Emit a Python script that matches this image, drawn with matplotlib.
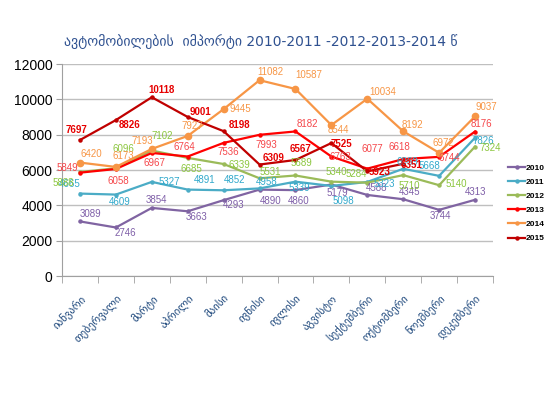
import matplotlib
matplotlib.use("Agg")
import matplotlib.pyplot as plt
from matplotlib.lines import Line2D

months = ["იანვარი", "თებერვალი", "მარტი", "აპრილი", "მაისი", "ივნისი",
          "ივლისი", "აგვისტო", "სექტემბერი", "ოქტომბერი", "ნოემბერი", "დეკემბერი"]
title = "ავტომობილების  იმპორტი 2010-2011 -2012-2013-2014 წ"
years = ["2010", "2011", "2012", "2013", "2014", "2015"]

v2010 = [3089, 2746, 3854, 3663, 4293, 4890, 4860, 5179, 4588, 4345, 3744, 4313]
v2011 = [4665, 4609, 5327, 4891, 4852, 4958, 5339, 5098, 5323, 6069, 5668, 7826]
v2012 = [5888, 6096, 7102, 6685, 6339, 5531, 5689, 5340, 5284, 5710, 5140, 7324]
v2013 = [5849, 6058, 6967, 6764, 7536, 7993, 8182, 6763, 6077, 6618, 6744, 8176]
v2014 = [6420, 6173, 7193, 7927, 9445, 11082, 10587, 8544, 10034, 8192, 6972, 9037]
v2015 = [7697, 8826, 10118, 9001, 8198, 6309, 6567, 7525, 5923, 6351]
yticks = [0, 2000, 4000, 6000, 8000, 10000, 12000]

series = [v2010, v2011, v2012, v2013, v2014, v2015]

# styles
line_colors = ["#8064A2", "#4BACC6", "#9BBB59", "#FF0000", "#F79646", "#C00000"]
label_colors = ["#7F5FA8", "#31A9CC", "#8CC63F", "#F5474B", "#F79646", "#E60000"]
label_weights = ["normal", "normal", "normal", "normal", "normal", "bold"]
msizes = [2.2, 2.2, 2.2, 2.2, 4.5, 2.2]

# label offsets in screen pixels (dx right, dy down)
offs = [
    [(11, -7), (9, 6), (5, -8), (9, 6), (10, 5), (11, 11), (3, 11), (6, 8), (9, -7), (6, -7), (1, 6), (1, -8)],
    [(-10, -10), (4, 7), (18, 0), (17, -10), (11, -10), (7, -6), (4, 6), (12, 15), (17, 2), (4, -7), (-10, -10), (8, 3)],
    [(-17, 11), (8, -19), (10, -15), (4, 11), (16, 1), (11, -6), (6, -12), (5, -10), (-11, -9), (6, 11), (17, -1), (15, 1)],
    [(-13, -5), (2, 12), (3, 10), (-3, -10), (5, 9), (7, 10), (12, -7), (9, 0), (5, -20), (-4, -12), (10, 1), (6, -8)],
    [(11, -9), (7, -11), (-9, -8), (5, -10), (17, 0), (11, -8), (13, -14), (7, 5), (15, -7), (9, -6), (4, -10), (11, -9)],
    [(-3, -10), (14, 5), (10, -7), (13, -5), (16, -6), (14, -7), (5, -11), (10, 1), (12, 1), (8, 1)],
]

fig = plt.figure(figsize=(5.5, 4.12), dpi=100)
ax = fig.add_axes([62 / 550, 1 - 276 / 412, 431 / 550, 212 / 412])

for i, (vals, name) in enumerate(zip(series, years)):
    x = list(range(len(vals)))
    ax.plot(x, vals, color=line_colors[i], lw=1.6, marker="o",
            ms=msizes[i], mec=line_colors[i], mfc=line_colors[i], label=name,
            zorder=3 + i * 0.1)

for i, vals in enumerate(series):
    for j, v in enumerate(vals):
        dx, dy = offs[i][j]
        ax.annotate(str(v), (j, v), xytext=(dx, -dy), textcoords="offset pixels",
                    ha="center", va="center", fontsize=7, color=label_colors[i],
                    fontweight=label_weights[i], family="Liberation Sans", zorder=10)

ax.set_xlim(-0.5, 11.5)
ax.set_ylim(0, 12000)
ax.set_yticks(yticks)
ax.set_yticklabels([str(t) for t in yticks], family="Liberation Sans", fontsize=10)
ax.yaxis.grid(True, color="#BFBFBF", lw=1)
ax.set_axisbelow(True)
ax.set_xticks(range(12))
ax.set_xticklabels(months, rotation=45, ha="right", rotation_mode="anchor",
                   fontsize=7.8, color="#1F497D", family="DejaVu Sans")
ax.set_xticks([k - 0.5 for k in range(13)], minor=True)
ax.tick_params(axis="x", which="major", length=0, pad=12)
ax.tick_params(axis="x", which="minor", length=5, color="#A0A0A0")
ax.tick_params(axis="y", length=4, color="#A0A0A0", pad=3)
for s in ["top", "right"]:
    ax.spines[s].set_visible(False)
for s in ["left", "bottom"]:
    ax.spines[s].set_color("#A0A0A0")

fig.text(261 / 550, 1 - 42 / 412, title, ha="center", va="center",
         fontsize=10, color="#2F5190", family="DejaVu Sans")

handles = [Line2D([0], [0], color=line_colors[i], lw=1.6, marker="o", ms=2.2)
           for i in range(6)]
fig.legend(handles, years, loc="upper left", bbox_to_anchor=(504 / 550, 1 - 160 / 412),
           frameon=False, prop={"weight": "bold", "size": 6, "family": "Liberation Sans"},
           handlelength=2.0, handletextpad=0.15, labelspacing=0.75, borderpad=0)

fig.savefig("out.png", dpi=100)
